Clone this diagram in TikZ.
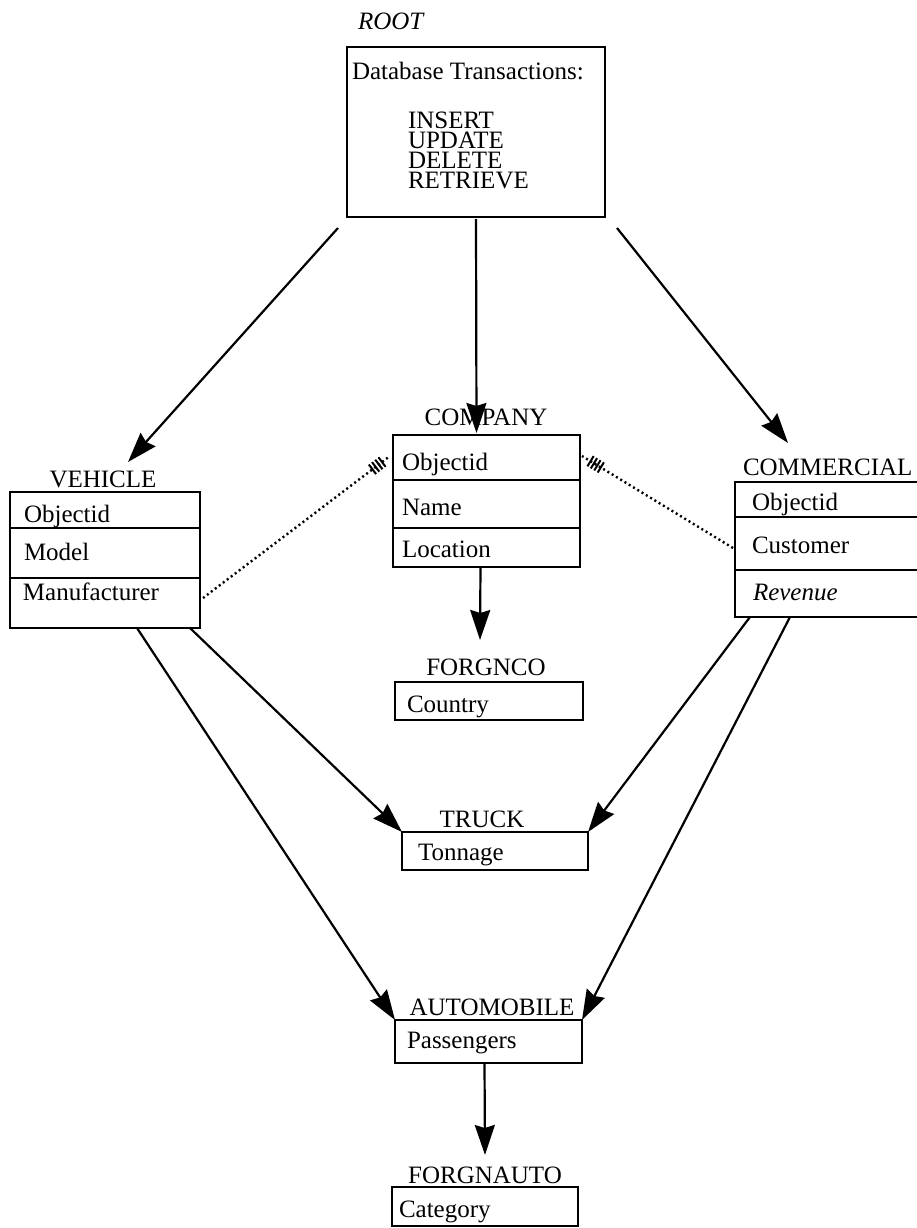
\documentclass[tikz,border=0pt]{standalone}
\usepackage{fontspec}
\setmainfont{Liberation Serif}
\usetikzlibrary{arrows.meta,decorations.markings}
\begin{document}
\begin{tikzpicture}[x=1pt,y=-1pt,
  every node/.style={font=\fontsize{25}{20}\selectfont, inner sep=0pt, outer sep=0pt},
  it/.style={font=\fontsize{25}{20}\selectfont\itshape},
  tbox/.style={draw, line width=2.2pt, anchor=north west},
  rowline/.style={line width=2.2pt},
  lbl/.style={anchor=base},
  fld/.style={anchor=base west},
  link/.style={line width=2.2pt, -{Stealth[length=30pt,width=20pt,inset=3pt]}},
  tick/.style={solid, line width=2pt},
  fkey/.style={line width=2.4pt, dash pattern=on 2pt off 3pt,
    postaction={decorate},
    decoration={markings,
      mark=at position -10pt with {\draw[tick] (0pt,-6pt) -- (0pt,6pt);},
      mark=at position -14pt with {\draw[tick] (0pt,-6pt) -- (0pt,6pt);},
      mark=at position -18pt with {\draw[tick] (0pt,-6pt) -- (0pt,6pt);},
      mark=at position -22pt with {\draw[tick] (0pt,-6pt) -- (0pt,6pt);}}}
]
\clip (0,0) rectangle (917,1228);
\fill[white] (0,0) rectangle (917,1228);

% ---- root: transaction box ----
\node[it, anchor=base west] (rootname) at (358,30) {ROOT};
\node[tbox, minimum width=258pt, minimum height=170pt] (root) at (347,47) {};
\node[fld] (dbt) at (352,80) {Database Transactions:};
\node[anchor=north west, align=left] (ops) at (408,111.5) {INSERT\\UPDATE\\DELETE\\RETRIEVE};

% ---- VEHICLE ----
\node[lbl] (vehname) at (103,487) {VEHICLE};
\node[tbox, minimum width=190pt, minimum height=136pt] (vehicle) at (10,492) {};
\draw[rowline] ([yshift=-36pt]vehicle.north west) -- ([yshift=-36pt]vehicle.north east);
\draw[rowline] ([yshift=-86pt]vehicle.north west) -- ([yshift=-86pt]vehicle.north east);
\node[fld] (vobj) at (24,522) {Objectid};
\node[fld] (vmod) at (24,560) {Model};
\node[fld] (vman) at (23,600) {Manufacturer};

% ---- COMPANY ----
\node[lbl] (compname) at (486,425) {COMPANY};
\node[tbox, minimum width=187pt, minimum height=132pt] (company) at (393,435) {};
\draw[rowline] ([yshift=-45pt]company.north west) -- ([yshift=-45pt]company.north east);
\draw[rowline] ([yshift=-93pt]company.north west) -- ([yshift=-93pt]company.north east);
\node[fld] (cobj) at (402,470) {Objectid};
\node[fld] (cnam) at (402,515) {Name};
\node[fld] (cloc) at (402,557) {Location};

% ---- COMMERCIAL ----
\node[anchor=base west] (cmlname) at (743,475) {COMMERCIAL};
\node[tbox, minimum width=200pt, minimum height=135pt] (commercial) at (735,482) {};
\draw[rowline] ([yshift=-35pt]commercial.north west) -- ([yshift=-35pt]commercial.north east);
\draw[rowline] ([yshift=-88pt]commercial.north west) -- ([yshift=-88pt]commercial.north east);
\node[fld] (mobj) at (752,510) {Objectid};
\node[fld] (mcus) at (752,553) {Customer};
\node[it, anchor=base west] (mrev) at (753,600) {Revenue};

% ---- FORGNCO ----
\node[lbl] (fconame) at (486,675) {FORGNCO};
\node[tbox, minimum width=188pt, minimum height=38pt] (forgnco) at (395,682) {};
\node[fld] (fcty) at (407,712) {Country};

% ---- TRUCK ----
\node[lbl] (trkname) at (482,827) {TRUCK};
\node[tbox, minimum width=186pt, minimum height=38pt] (truck) at (402,832) {};
\node[fld] (tton) at (418,860) {Tonnage};

% ---- AUTOMOBILE ----
\node[lbl] (autname) at (492,1015) {AUTOMOBILE};
\node[tbox, minimum width=187pt, minimum height=43pt] (automobile) at (395,1020) {};
\node[fld] (apas) at (407,1048) {Passengers};

% ---- FORGNAUTO ----
\node[lbl] (fauname) at (485,1183) {FORGNAUTO};
\node[tbox, minimum width=186pt, minimum height=39pt] (forgnauto) at (392,1187) {};
\node[fld] (fcat) at (399,1217) {Category};

% ---- hierarchy arrows ----
\draw[link] ([shift={(-9,11)}]root.south west) -- ([shift={(23,-30)}]vehicle.north);
\draw[link] ([yshift=-2pt]root.south) -- ([shift={(-10,-2)}]company.north);
\draw[link] ([shift={(12,11)}]root.south east) -- ([shift={(53,-39)}]commercial.north west);
\draw[link] ([xshift=-6pt]company.south) -- ([shift={(85,-42)}]forgnco.north west);
\draw[link] ([xshift=-10pt]vehicle.south east) -- (truck.north west);
\draw[link] ([xshift=127pt]vehicle.south west) -- (automobile.north west);
\draw[link] ([xshift=15pt]commercial.south west) -- (truck.north east);
\draw[link] ([xshift=55pt]commercial.south west) -- (automobile.north east);
\draw[link] ([xshift=-4pt]automobile.south) -- ([shift={(93,-32)}]forgnauto.north west);

% ---- foreign-key references (dotted) ----
\draw[fkey] ([shift={(3,38)}]vehicle.east) -- ([shift={(-3,21)}]company.north west);
\draw[fkey] ([shift={(-2,66)}]commercial.north west) -- ([shift={(2,21)}]company.north east);
\end{tikzpicture}
\end{document}
